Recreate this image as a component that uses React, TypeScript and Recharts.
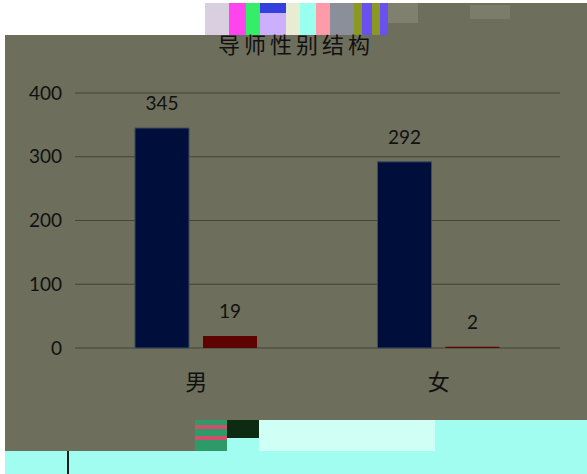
import { BarChart, Bar, XAxis, YAxis, CartesianGrid, LabelList } from 'recharts'

const categories = ['男', '女']
const seriesA = [345, 292]
const seriesB = [19, 2]
const yTicks = [0, 100, 200, 300, 400]
const title = '导师性别结构'

const data = categories.map((name, i) => ({ name, a: seriesA[i], b: seriesB[i] }))

const font = 'Lato, "Noto Sans CJK SC", sans-serif'
const olive = '#6d6e5b'

// decorative blocks copied from the glitched screenshot
const Block = ({ x, y, w, h, c }: { x: number; y: number; w: number; h: number; c: string }) => (
  <div style={{ position: 'absolute', left: x, top: y, width: w, height: h, background: c }} />
)

export default function App() {
  return (
    <div style={{ position: 'relative', width: 587, height: 474, background: olive, overflow: 'hidden', fontFamily: font }}>
      <style>{'body{margin:0}'}</style>
      <Block x={0} y={0} w={587} h={3} c="#ffffff" />
      <Block x={0} y={0} w={5} h={474} c="#ffffff" />
      <Block x={5} y={3} w={200} h={32} c="#ffffff" />
      {/* top glitch */}
      <Block x={205} y={3} w={24} h={32} c="#d8d0e0" />
      <Block x={229} y={3} w={17} h={32} c="#ff44ee" />
      <Block x={246} y={3} w={14} h={32} c="#33ee66" />
      <Block x={260} y={3} w={26} h={10} c="#3340dd" />
      <Block x={260} y={13} w={26} h={22} c="#ccb0ff" />
      <Block x={286} y={3} w={14} h={32} c="#e8ecd0" />
      <Block x={300} y={3} w={16} h={32} c="#99ffee" />
      <Block x={316} y={3} w={14} h={32} c="#ff9aa8" />
      <Block x={330} y={3} w={24} h={32} c="#8a8f9a" />
      <Block x={354} y={3} w={8} h={32} c="#8a9a20" />
      <Block x={362} y={3} w={10} h={32} c="#6a50ee" />
      <Block x={372} y={3} w={8} h={32} c="#8a9a20" />
      <Block x={380} y={3} w={8} h={32} c="#6a50ee" />
      <Block x={388} y={3} w={30} h={20} c="#80806e" />
      <Block x={470} y={5} w={40} h={14} c="#7c7c6a" />
      {/* bottom cyan and glitch */}
      <Block x={195} y={420} w={392} h={54} c="#a0fdf0" />
      <Block x={5} y={451} w={190} h={23} c="#a0fdf0" />
      <Block x={67} y={451} w={2} h={23} c="#1a1a1a" />
      <Block x={195} y={420} w={32} h={31} c="#2e9a6a" />
      <Block x={195} y={425} w={32} h={4} c="#d0506a" />
      <Block x={195} y={436} w={32} h={4} c="#d0506a" />
      <Block x={227} y={420} w={32} h={18} c="#0d2a12" />
      <Block x={259} y={420} w={176} h={31} c="#d0fff6" />

      <div
        style={{
          position: 'absolute',
          left: 5,
          top: 27,
          width: 582,
          textAlign: 'center',
          fontSize: 22,
          letterSpacing: 4,
          color: '#111111',
          zIndex: 2,
        }}
      >
        {title}
      </div>

      <div style={{ position: 'absolute', left: 5, top: 3, zIndex: 1 }}>
        <BarChart
          width={582}
          height={417}
          data={data}
          margin={{ top: 90, right: 27, bottom: 0, left: 0 }}
          barGap={14}
        >
          <CartesianGrid vertical={false} stroke="#43443a" strokeWidth={1.2} />
          <XAxis
            dataKey="name"
            axisLine={false}
            tickLine={false}
            height={72}
            tickMargin={20}
            tick={{ fontSize: 22, fill: '#111111', fontFamily: font }}
          />
          <YAxis
            domain={[0, 400]}
            ticks={yTicks}
            axisLine={false}
            tickLine={false}
            width={70}
            tickMargin={7}
            tick={{ fontSize: 19, fill: '#111111', fontFamily: font }}
          />
          <Bar dataKey="a" fill="#000e3c" stroke="#3a4a60" barSize={54} isAnimationActive={false}>
            <LabelList dataKey="a" position="top" offset={18} fill="#111111" fontSize={19} fontFamily={font} />
          </Bar>
          <Bar dataKey="b" fill="#5e0202" barSize={54} isAnimationActive={false}>
            <LabelList dataKey="b" position="top" offset={18} fill="#111111" fontSize={19} fontFamily={font} />
          </Bar>
        </BarChart>
      </div>
    </div>
  )
}
